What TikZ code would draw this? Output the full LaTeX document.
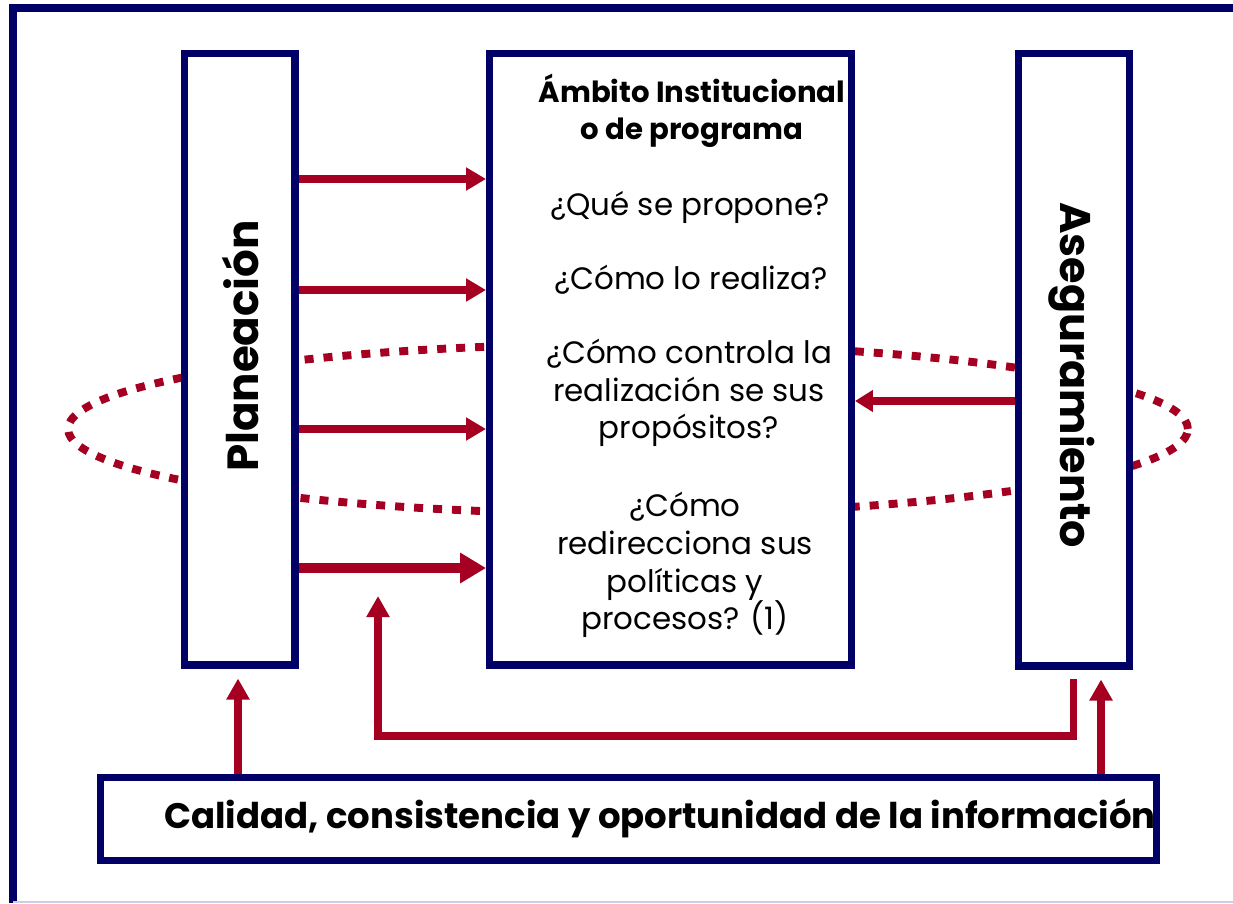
\documentclass[tikz,border=0pt]{standalone}
\usepackage{fontspec}
\setmainfont{Poppins}
\usetikzlibrary{arrows.meta}
\definecolor{navy}{RGB}{0,0,102}
\definecolor{crim}{RGB}{165,0,33}
\definecolor{lav}{RGB}{205,205,232}
\begin{document}
\begin{tikzpicture}[x=0.02cm,y=-0.02cm,
  box/.style={draw=navy,line width=4pt,fill=white,inner sep=0pt},
  arr/.style={draw=crim,line width=4pt,-{Triangle[length=0.4cm,width=0.44cm]}},
  thickarr/.style={draw=crim,line width=5.7pt,-{Triangle[length=0.52cm,width=0.58cm]}},
  backarr/.style={draw=crim,line width=4pt,-{Triangle[length=0.36cm,width=0.42cm]}},
  vertarr/.style={draw=crim,line width=4.4pt,-{Triangle[length=0.42cm,width=0.44cm]}},
  dots/.style={draw=crim,line width=4.5pt,dash pattern=on 0.18cm off 0.2cm},
  body/.style={font=\fontsize{17.6pt}{21.5pt}\selectfont,align=center,inner sep=0pt},
  title/.style={font=\fontsize{16.6pt}{21pt}\selectfont\bfseries,align=center,inner sep=0pt}]
\useasboundingbox (0,0) rectangle (1233,903);
\fill[white] (0,0) rectangle (1233,903);
% outer frame
\draw[navy,line width=4.2pt] (13,903) -- (13,8) -- (1233,8);
\draw[lav,line width=0.6pt] (13,902) -- (1233,902);
% dotted loop
\draw[dots] (628,429) ellipse [x radius=11.2cm, y radius=1.7cm];
% boxes
\node[box,minimum width=2.22cm,minimum height=12.23cm] (plan) at (239.5,359.3) {};
\node[box,minimum width=7.24cm,minimum height=12.23cm] (mid) at (670.5,359.3) {};
\node[box,minimum width=2.22cm,minimum height=12.25cm] (aseg) at (1074,359.8) {};
\node[box,minimum width=21.12cm,minimum height=1.67cm] (bot) at (628.5,818.8) {};
% labels
\node[inner sep=0pt] (planlabel) at (241,346)
  {\rotatebox{90}{\fontsize{24.8pt}{30pt}\selectfont\bfseries Planeación}};
\node[inner sep=0pt] (aseglabel) at (1072,375)
  {\rotatebox{-90}{\fontsize{24.4pt}{30pt}\selectfont\bfseries Aseguramiento}};
\node[font=\fontsize{20.2pt}{25pt}\selectfont\bfseries,inner sep=0pt] (botlabel) at (660,818) {Calidad, consistencia y oportunidad de la información};
% texts in the middle box
\node[title] (t0) at (692,111) {Ámbito Institucional\\o de programa};
\node[body] (q1) at (690,207) {¿Qué se propone?};
\node[body] (q2) at (691,280) {¿Cómo lo realiza?};
\node[body] (q3) at (689,393) {¿Cómo controla la\\realización se sus\\propósitos?};
\node[body] (q4) at (685,565) {¿Cómo\\redirecciona sus\\políticas y\\procesos? (1)};
% arrows Planeacion -> middle
\draw[arr] (plan.east |- 0,179) -- (mid.west |- 0,179);
\draw[arr] (plan.east |- 0,290) -- (mid.west |- 0,290);
\draw[arr] (plan.east |- 0,429) -- (mid.west |- 0,429);
\draw[thickarr] (plan.east |- 0,568) -- (mid.west |- 0,568);
% arrow Aseguramiento -> middle
\draw[backarr] (aseg.west |- 0,401) -- (mid.east |- 0,401);
% arrows from the bottom box
\draw[vertarr,shorten >=0.2cm] (bot.north -| 238,0) -- (plan.south -| 238,0);
\draw[vertarr,shorten >=0.2cm] (bot.north -| 1101,0) -- (aseg.south -| 1101,0);
% elbow feedback
\coordinate (fbstart) at (1073,679);
\coordinate (fbend) at (378,596);
\draw[arr,-{Triangle[length=0.42cm,width=0.44cm]}] (fbstart) -- (1073,736) -| (fbend);
\end{tikzpicture}
\end{document}
